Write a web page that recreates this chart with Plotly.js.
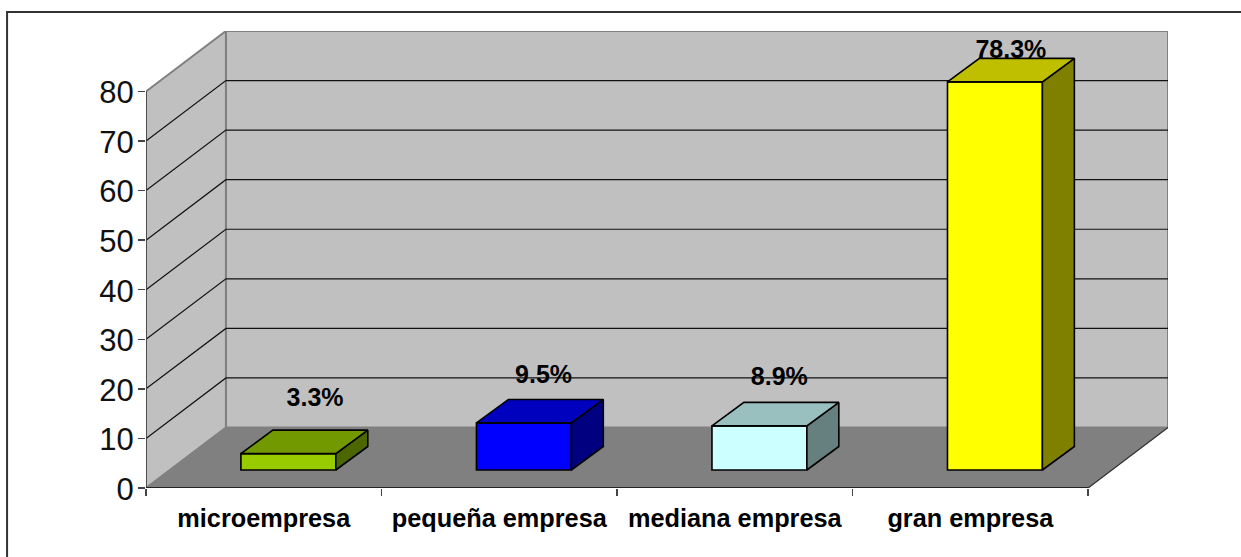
<!DOCTYPE html>
<html>
<head>
<meta charset="utf-8">
<script src="https://cdn.plot.ly/plotly-3.0.1.min.js"></script>
<style>
  html, body { margin: 0; padding: 0; background: #fff; overflow: hidden; }
  #chart { width: 1241px; height: 557px; }
</style>
</head>
<body>
<div id="chart"></div>
<script>
// Company-size shares, drawn as oblique 3D columns on a 2D cartesian subplot.
const categories = ['microempresa', 'pequeña empresa', 'mediana empresa', 'gran empresa'];
const shares = [3.3, 9.5, 8.9, 78.3];
const yTicks = [0, 10, 20, 30, 40, 50, 60, 70, 80];

const frontColors = ['#99CC00', '#0000FF', '#CCFFFF', '#FFFF00'];
const topColors   = ['#739900', '#0000BF', '#99BFBF', '#BFBF00'];
const sideColors  = ['#4C6600', '#000080', '#668080', '#808000'];

// Label placement relative to each column, in axis units.
const labelShiftX = [0.218, 0.188, 0.189, 0.172];
const labelLift   = [14.6, 13.0, 13.2, 9.7];

// Oblique projection, in axis units.
const wallDX = 0.3393, wallDY = 12.2;    // full depth of the chart box
const floorDX = 0.1045, floorDY = 3.63;  // where column fronts stand on the floor
const barDX = 0.1357, barDY = 4.74;      // depth of one column
const barWidth = 0.403;
const yMax = 80;
const xLo = -0.5, xHi = categories.length - 0.5;

const centers = categories.map((_, i) => i);
const boundaries = categories.map((_, i) => i - 0.5).concat([xHi]);

const poly = (pts, fill, line, w, layer) => ({
  type: 'path', layer: layer || 'below', xref: 'x', yref: 'y',
  path: 'M' + pts.map(p => p[0] + ',' + p[1]).join('L') + (fill ? 'Z' : ''),
  fillcolor: fill || 'rgba(0,0,0,0)', line: { color: line, width: w }
});

const shapes = [];
// Back wall, side wall, floor.
shapes.push(poly([[xLo + wallDX, wallDY], [xHi + wallDX, wallDY], [xHi + wallDX, yMax + wallDY], [xLo + wallDX, yMax + wallDY]], '#C0C0C0', '#808080', 2));
shapes.push(poly([[xLo, 0], [xLo + wallDX, wallDY], [xLo + wallDX, yMax + wallDY], [xLo, yMax]], '#C0C0C0', '#808080', 2));
shapes.push(poly([[xLo, 0], [xHi, 0], [xHi + wallDX, wallDY], [xLo + wallDX, wallDY]], '#808080', '#808080', 1));
// Gridlines run along the side wall and across the back wall.
yTicks.slice(1, -1).forEach(v => {
  shapes.push(poly([[xLo, v], [xLo + wallDX, v + wallDY], [xHi + wallDX, v + wallDY]], null, '#111111', 1.2));
});
// Box edges and axis lines.
shapes.push(poly([[xHi, 0], [xHi + wallDX, wallDY]], null, '#333333', 1.2));
shapes.push(poly([[xLo, 0], [xLo, yMax]], null, '#404040', 1.6));
shapes.push(poly([[xLo, 0], [xHi, 0]], null, '#222222', 2));
// Frame around the figure: only the top and left edges fall inside the page.
shapes.push({ type: 'line', xref: 'paper', yref: 'paper', layer: 'below',
  x0: -140 / 1022.5, x1: 1.1, y0: 476 / 457, y1: 476 / 457, line: { color: '#333333', width: 2 } });
shapes.push({ type: 'line', xref: 'paper', yref: 'paper', layer: 'below',
  x0: -139 / 1022.5, x1: -139 / 1022.5, y0: -0.3, y1: 477 / 457, line: { color: '#333333', width: 2 } });

const edge = { color: '#000000', width: 1.6 };

const fronts = {
  type: 'bar',
  x: centers.map(c => c + floorDX),
  y: shares,
  base: shares.map(() => floorDY),
  width: barWidth,
  marker: { color: frontColors, line: edge },
  hoverinfo: 'skip',
  showlegend: false
};

// Percentage labels go before the faces so a tall column's top can cover its own label.
const labels = {
  type: 'scatter',
  mode: 'text',
  x: centers.map((c, i) => c + labelShiftX[i]),
  y: shares.map((v, i) => v + labelLift[i]),
  text: shares.map(v => v.toFixed(1) + '%'),
  textposition: 'middle center',
  textfont: { family: 'Liberation Sans, Arial, sans-serif', size: 25, color: '#000000', weight: 700 },
  cliponaxis: false,
  hoverinfo: 'skip',
  showlegend: false
};

const faceTrace = (xs, ys, color) => ({
  type: 'scatter', mode: 'lines', x: xs, y: ys, fill: 'toself', fillcolor: color,
  line: edge, hoverinfo: 'skip', showlegend: false
});

const faces = [];
shares.forEach((v, i) => {
  const x0 = centers[i] + floorDX - barWidth / 2;
  const x1 = centers[i] + floorDX + barWidth / 2;
  const bottom = floorDY, top = floorDY + v;
  faces.push(faceTrace(
    [x1, x1 + barDX, x1 + barDX, x1, x1],
    [bottom, bottom + barDY, top + barDY, top, bottom],
    sideColors[i]));
  faces.push(faceTrace(
    [x0, x1, x1 + barDX, x0 + barDX, x0],
    [top, top, top + barDY, top + barDY, top],
    topColors[i]));
});

const layout = {
  width: 1241, height: 557, autosize: false,
  margin: { l: 146, r: 72.5, t: 31, b: 69, pad: 0 },
  paper_bgcolor: '#FFFFFF', plot_bgcolor: 'rgba(0,0,0,0)',
  font: { family: 'Liberation Sans, Arial, sans-serif', color: '#000000' },
  showlegend: false,
  bargap: 0,
  xaxis: {
    range: [xLo, xHi + wallDX], fixedrange: true,
    showgrid: false, zeroline: false, showline: false,
    tickmode: 'array', tickvals: centers, ticktext: categories,
    ticks: 'outside', ticklen: 8, tickcolor: 'rgba(0,0,0,0)',
    tickfont: { size: 25.3, weight: 700, color: '#000000' },
    minor: { tickmode: 'array', tickvals: boundaries, ticks: 'outside', ticklen: 7, tickwidth: 1.5, tickcolor: '#444444', showgrid: false }
  },
  yaxis: {
    range: [0, yMax + wallDY], fixedrange: true,
    showgrid: false, zeroline: false, showline: false,
    tickmode: 'array', tickvals: yTicks,
    ticks: 'outside', ticklen: 7, tickwidth: 1.5, tickcolor: '#444444',
    ticklabelstandoff: -2, ticklabelshift: 1,
    tickfont: { size: 31, color: '#111111' }
  },
  shapes: shapes
};

Plotly.newPlot('chart', [fronts, labels].concat(faces), layout, { displayModeBar: false, responsive: false, staticPlot: true });
</script>
</body>
</html>
